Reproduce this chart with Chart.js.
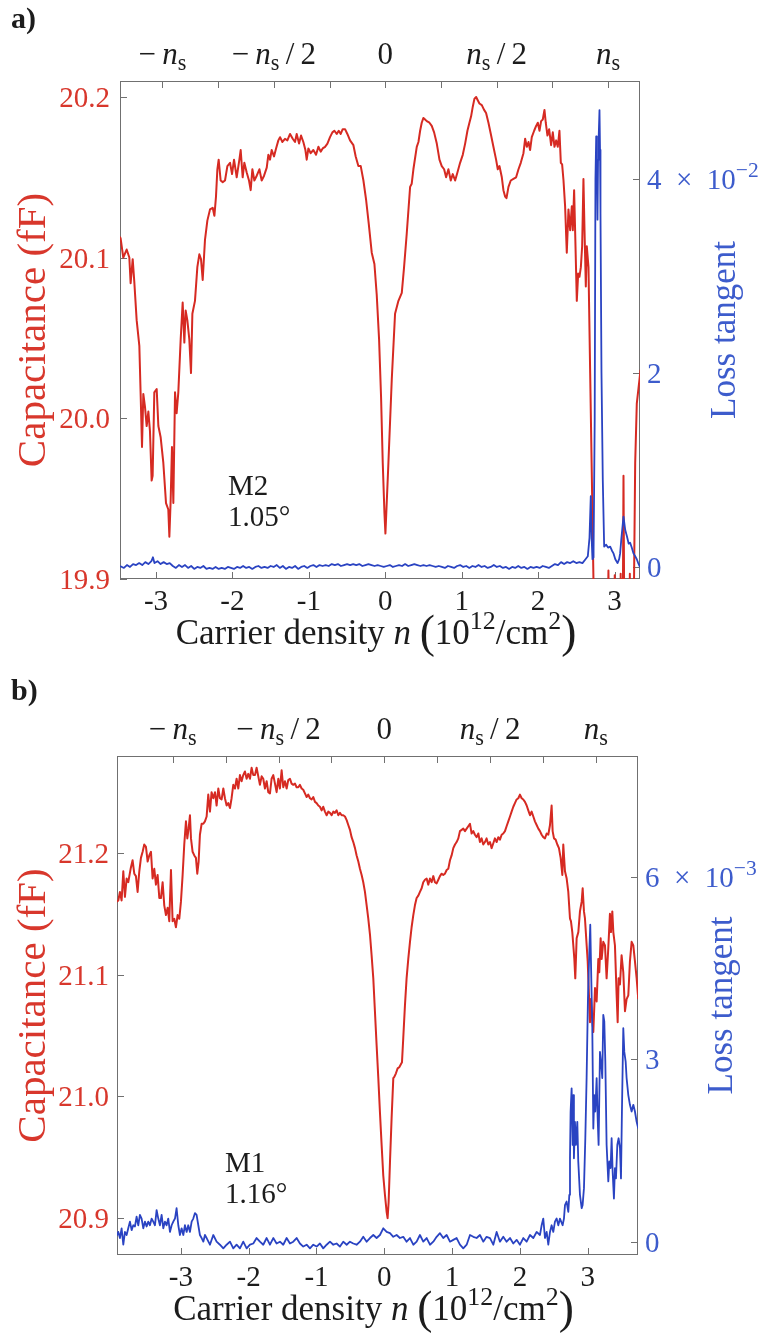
<!DOCTYPE html>
<html>
<head>
<meta charset="utf-8">
<script src="https://cdn.jsdelivr.net/npm/chart.js@4/dist/chart.umd.min.js"></script>
<style>
  html, body { margin: 0; padding: 0; background: #fff; }
  body { width: 770px; height: 1338px; position: relative; overflow: hidden; }
  canvas { position: absolute; left: 0; display: block; }
</style>
</head>
<body>
<canvas id="panelA" width="770" height="668" style="top:0"></canvas>
<canvas id="panelB" width="770" height="670" style="top:668px"></canvas>
<script>
// ---------- data: [carrier density (1e12 cm^-2), value] ----------
const capacitanceA = [
  [-3.475,20.113],[-3.463,20.112],[-3.428,20.100],[-3.384,20.105],[-3.349,20.100],[-3.332,20.084],[-3.305,20.099],[-3.284,20.085],
  [-3.253,20.061],[-3.218,20.045],[-3.201,20.015],[-3.183,19.982],[-3.166,20.015],[-3.144,20.007],[-3.122,19.995],[-3.100,20.004],
  [-3.079,19.992],[-3.057,19.961],[-3.044,19.964],[-3.022,20.016],[-2.991,20.018],[-2.969,19.995],[-2.939,19.988],[-2.904,19.972],
  [-2.869,19.947],[-2.839,19.943],[-2.825,19.926],[-2.808,19.949],[-2.791,19.982],[-2.773,19.947],[-2.751,20.016],[-2.730,20.003],
  [-2.708,20.016],[-2.677,20.049],[-2.651,20.072],[-2.629,20.047],[-2.612,20.067],[-2.590,20.061],[-2.564,20.049],[-2.542,20.028],
  [-2.524,20.065],[-2.490,20.073],[-2.459,20.094],[-2.433,20.102],[-2.411,20.099],[-2.389,20.086],[-2.359,20.111],[-2.328,20.123],
  [-2.293,20.130],[-2.258,20.131],[-2.236,20.126],[-2.215,20.138],[-2.197,20.155],[-2.180,20.161],[-2.154,20.148],[-2.127,20.147],
  [-2.097,20.148],[-2.066,20.157],[-2.031,20.159],[-2.005,20.152],[-1.979,20.161],[-1.944,20.150],[-1.909,20.161],[-1.892,20.167],
  [-1.866,20.150],[-1.844,20.159],[-1.813,20.153],[-1.783,20.148],[-1.761,20.142],[-1.739,20.155],[-1.713,20.148],[-1.682,20.151],
  [-1.647,20.155],[-1.617,20.148],[-1.586,20.151],[-1.551,20.156],[-1.530,20.164],[-1.508,20.161],[-1.486,20.167],[-1.456,20.163],
  [-1.429,20.168],[-1.399,20.173],[-1.377,20.175],[-1.346,20.172],[-1.312,20.174],[-1.281,20.173],[-1.246,20.177],[-1.211,20.174],
  [-1.181,20.172],[-1.159,20.177],[-1.128,20.171],[-1.102,20.176],[-1.072,20.172],[-1.045,20.167],[-1.028,20.161],[-1.006,20.168],
  [-0.976,20.165],[-0.941,20.167],[-0.906,20.164],[-0.875,20.169],[-0.845,20.166],[-0.819,20.168],[-0.788,20.169],[-0.757,20.171],
  [-0.723,20.175],[-0.692,20.178],[-0.666,20.179],[-0.635,20.177],[-0.609,20.179],[-0.583,20.177],[-0.557,20.180],[-0.526,20.180],
  [-0.496,20.177],[-0.461,20.173],[-0.417,20.170],[-0.387,20.163],[-0.352,20.157],[-0.321,20.157],[-0.286,20.148],[-0.251,20.136],
  [-0.216,20.121],[-0.177,20.103],[-0.142,20.096],[-0.112,20.077],[-0.081,20.049],[-0.055,20.013],[-0.033,19.972],[-0.011,19.941],
  [0.002,19.928],[0.041,19.972],[0.085,20.024],[0.128,20.065],[0.172,20.073],[0.216,20.078],[0.246,20.094],[0.281,20.115],
  [0.325,20.144],[0.346,20.146],[0.368,20.155],[0.412,20.169],[0.434,20.172],[0.456,20.179],[0.477,20.184],[0.499,20.187],
  [0.521,20.186],[0.543,20.185],[0.578,20.184],[0.608,20.182],[0.639,20.178],[0.674,20.171],[0.709,20.161],[0.739,20.157],
  [0.770,20.155],[0.796,20.150],[0.826,20.155],[0.857,20.148],[0.883,20.152],[0.914,20.148],[0.944,20.153],[0.979,20.159],
  [1.014,20.164],[1.045,20.171],[1.075,20.179],[1.101,20.184],[1.123,20.188],[1.145,20.194],[1.167,20.199],[1.189,20.200],
  [1.210,20.198],[1.232,20.196],[1.263,20.195],[1.293,20.192],[1.319,20.190],[1.350,20.184],[1.381,20.177],[1.415,20.169],
  [1.450,20.161],[1.472,20.155],[1.494,20.157],[1.525,20.150],[1.546,20.142],[1.568,20.138],[1.586,20.137],[1.612,20.144],
  [1.642,20.148],[1.677,20.149],[1.712,20.150],[1.743,20.155],[1.773,20.159],[1.808,20.165],[1.830,20.174],[1.852,20.169],
  [1.874,20.172],[1.895,20.167],[1.917,20.175],[1.948,20.179],[1.974,20.182],[1.996,20.184],[2.018,20.179],[2.039,20.185],
  [2.061,20.186],[2.083,20.192],[2.100,20.184],[2.122,20.176],[2.144,20.180],[2.170,20.170],[2.192,20.178],[2.214,20.169],
  [2.236,20.173],[2.257,20.169],[2.279,20.179],[2.297,20.159],[2.314,20.158],[2.332,20.148],[2.353,20.132],[2.375,20.103],
  [2.397,20.130],[2.419,20.117],[2.441,20.132],[2.454,20.117],[2.471,20.142],[2.489,20.107],[2.506,20.073],[2.524,20.090],
  [2.541,20.088],[2.559,20.094],[2.576,20.107],[2.593,20.149],[2.607,20.117],[2.624,20.082],[2.637,20.107],[2.659,20.094],
  [2.681,20.028],[2.707,19.951],[2.724,19.899],[2.740,19.850],[2.905,19.850],[2.920,19.905],[2.935,19.850],[2.995,19.850],
  [3.000,19.902],[3.005,19.850],[3.075,19.850],[3.080,19.903],[3.085,19.850],[3.105,19.850],[3.117,19.964],[3.130,19.850],
  [3.195,19.850],[3.200,19.903],[3.205,19.850],[3.245,19.850],[3.270,19.972],[3.291,20.009],[3.326,20.024],[3.340,20.030]
];

const lossTangentA = [
  [-3.47,0.0001],[-3.42,-0.0001],[-3.38,0.0002],[-3.34,0.0000],[-3.30,0.0003],[-3.26,0.0002],[-3.22,0.0004],[-3.18,0.0002],
  [-3.14,0.0005],[-3.10,0.0003],[-3.06,0.0006],[-3.04,0.0010],[-3.02,0.0004],[-2.98,0.0006],[-2.94,0.0003],[-2.90,0.0005],
  [-2.86,0.0003],[-2.82,0.0004],[-2.78,0.0001],[-2.74,-0.0001],[-2.70,0.0002],[-2.66,0.0000],[-2.62,0.0002],[-2.58,-0.0001],
  [-2.54,0.0001],[-2.50,-0.0002],[-2.46,0.0000],[-2.42,-0.0001],[-2.38,0.0001],[-2.34,-0.0002],[-2.30,-0.0001],[-2.26,-0.0002],
  [-2.22,0.0000],[-2.18,-0.0002],[-2.14,-0.0001],[-2.10,-0.0002],[-2.06,0.0000],[-2.02,-0.0001],[-1.98,-0.0002],[-1.94,0.0000],
  [-1.90,-0.0001],[-1.86,0.0001],[-1.82,-0.0001],[-1.78,0.0000],[-1.74,-0.0002],[-1.70,0.0000],[-1.66,0.0001],[-1.62,-0.0001],
  [-1.58,0.0000],[-1.54,-0.0001],[-1.50,0.0001],[-1.46,0.0000],[-1.42,0.0002],[-1.38,-0.0001],[-1.34,0.0001],[-1.30,-0.0002],
  [-1.26,0.0000],[-1.22,-0.0001],[-1.18,0.0001],[-1.14,-0.0002],[-1.10,0.0000],[-1.06,0.0001],[-1.02,-0.0001],[-0.98,0.0001],
  [-0.94,0.0002],[-0.90,0.0000],[-0.86,0.0002],[-0.82,0.0001],[-0.78,0.0002],[-0.74,0.0001],[-0.70,0.0003],[-0.66,0.0002],
  [-0.62,0.0003],[-0.58,0.0001],[-0.54,0.0002],[-0.50,0.0003],[-0.46,0.0002],[-0.42,0.0003],[-0.38,0.0002],[-0.34,0.0003],
  [-0.30,0.0001],[-0.26,0.0002],[-0.22,0.0003],[-0.18,0.0002],[-0.14,0.0001],[-0.10,0.0002],[-0.06,0.0001],[-0.02,0.0000],
  [0.02,0.0001],[0.06,0.0002],[0.10,0.0000],[0.14,0.0001],[0.18,0.0002],[0.22,0.0001],[0.26,0.0003],[0.30,0.0001],
  [0.34,0.0002],[0.38,0.0003],[0.42,0.0002],[0.46,0.0001],[0.50,0.0002],[0.54,0.0001],[0.58,0.0002],[0.62,0.0001],
  [0.66,0.0000],[0.70,0.0001],[0.74,0.0000],[0.78,-0.0001],[0.82,0.0001],[0.86,0.0000],[0.90,-0.0001],[0.94,0.0001],
  [0.98,0.0002],[1.02,0.0000],[1.06,0.0001],[1.10,-0.0001],[1.14,0.0001],[1.18,0.0000],[1.22,0.0002],[1.26,0.0000],
  [1.30,0.0001],[1.34,-0.0001],[1.38,0.0000],[1.42,0.0002],[1.46,0.0000],[1.50,0.0001],[1.54,-0.0001],[1.58,0.0000],
  [1.62,-0.0002],[1.66,0.0000],[1.70,-0.0001],[1.74,0.0001],[1.78,-0.0001],[1.82,0.0000],[1.86,-0.0002],[1.90,0.0000],
  [1.94,-0.0001],[1.98,0.0000],[2.02,-0.0001],[2.06,0.0001],[2.10,0.0000],[2.14,-0.0001],[2.18,0.0001],[2.22,0.0003],
  [2.26,0.0002],[2.30,0.0005],[2.34,0.0003],[2.38,0.0005],[2.42,0.0004],[2.46,0.0006],[2.50,0.0004],[2.54,0.0005],
  [2.58,0.0004],[2.62,0.0008],[2.65,0.0011],[2.672,0.0030],[2.689,0.0073],[2.700,0.0030],[2.711,0.0008],[2.725,0.0010],
  [2.740,0.0150],[2.750,0.0400],[2.760,0.0444],[2.768,0.0420],[2.777,0.0358],[2.784,0.0420],[2.790,0.0433],[2.796,0.0445],
  [2.803,0.0471],[2.810,0.0430],[2.816,0.0365],[2.829,0.0200],[2.846,0.0090],[2.864,0.0021],[2.890,0.0023],[2.915,0.0020],
  [2.943,0.0021],[2.965,0.0017],[2.986,0.0014],[3.010,0.0008],[3.039,0.0004],[3.060,0.0008],[3.073,0.0014],[3.090,0.0030],
  [3.117,0.0052],[3.140,0.0038],[3.161,0.0032],[3.185,0.0024],[3.204,0.0025],[3.225,0.0020],[3.248,0.0014],[3.270,0.0011],
  [3.291,0.0008],[3.310,0.0004],[3.326,0.0001],[3.340,0.0000]
];

const capacitanceB = [
  [-3.945,21.160],[-3.923,21.161],[-3.899,21.168],[-3.874,21.161],[-3.849,21.185],[-3.825,21.164],[-3.800,21.179],[-3.776,21.176],
  [-3.741,21.187],[-3.712,21.194],[-3.687,21.183],[-3.663,21.181],[-3.638,21.168],[-3.613,21.185],[-3.589,21.196],[-3.564,21.201],
  [-3.540,21.207],[-3.515,21.205],[-3.490,21.193],[-3.466,21.198],[-3.441,21.201],[-3.417,21.179],[-3.392,21.187],[-3.368,21.174],
  [-3.343,21.182],[-3.318,21.163],[-3.294,21.163],[-3.269,21.176],[-3.245,21.157],[-3.220,21.149],[-3.195,21.155],[-3.171,21.144],
  [-3.146,21.186],[-3.122,21.144],[-3.097,21.146],[-3.073,21.139],[-3.048,21.149],[-3.023,21.146],[-2.999,21.160],[-2.974,21.182],
  [-2.950,21.207],[-2.925,21.226],[-2.905,21.212],[-2.886,21.220],[-2.866,21.231],[-2.851,21.212],[-2.827,21.201],[-2.802,21.198],
  [-2.778,21.196],[-2.758,21.183],[-2.738,21.193],[-2.719,21.215],[-2.694,21.224],[-2.669,21.224],[-2.645,21.226],[-2.620,21.230],
  [-2.596,21.248],[-2.571,21.234],[-2.547,21.250],[-2.522,21.245],[-2.497,21.250],[-2.473,21.239],[-2.448,21.253],[-2.424,21.245],
  [-2.399,21.244],[-2.374,21.253],[-2.350,21.245],[-2.325,21.239],[-2.301,21.241],[-2.276,21.237],[-2.252,21.245],[-2.227,21.256],
  [-2.202,21.253],[-2.178,21.261],[-2.153,21.253],[-2.129,21.264],[-2.104,21.259],[-2.080,21.264],[-2.055,21.267],[-2.030,21.261],
  [-2.006,21.265],[-1.981,21.261],[-1.957,21.270],[-1.932,21.264],[-1.907,21.264],[-1.883,21.270],[-1.858,21.263],[-1.834,21.256],
  [-1.809,21.263],[-1.785,21.261],[-1.760,21.253],[-1.735,21.259],[-1.711,21.250],[-1.686,21.249],[-1.662,21.261],[-1.637,21.264],
  [-1.612,21.257],[-1.588,21.250],[-1.563,21.261],[-1.539,21.253],[-1.514,21.268],[-1.490,21.254],[-1.465,21.259],[-1.440,21.253],
  [-1.416,21.260],[-1.391,21.261],[-1.367,21.257],[-1.342,21.256],[-1.317,21.257],[-1.293,21.254],[-1.268,21.254],[-1.244,21.256],
  [-1.219,21.253],[-1.195,21.252],[-1.170,21.249],[-1.145,21.246],[-1.121,21.248],[-1.096,21.245],[-1.072,21.244],[-1.047,21.246],
  [-1.022,21.242],[-0.998,21.241],[-0.973,21.239],[-0.949,21.238],[-0.924,21.235],[-0.900,21.238],[-0.875,21.234],[-0.850,21.231],
  [-0.826,21.234],[-0.801,21.233],[-0.777,21.231],[-0.752,21.234],[-0.728,21.233],[-0.703,21.235],[-0.678,21.231],[-0.654,21.233],
  [-0.629,21.231],[-0.605,21.231],[-0.580,21.230],[-0.555,21.227],[-0.531,21.223],[-0.506,21.219],[-0.482,21.213],[-0.457,21.209],
  [-0.432,21.204],[-0.408,21.198],[-0.383,21.193],[-0.359,21.187],[-0.334,21.182],[-0.310,21.176],[-0.285,21.168],[-0.260,21.157],
  [-0.236,21.146],[-0.211,21.133],[-0.187,21.116],[-0.162,21.097],[-0.138,21.070],[-0.113,21.042],[-0.088,21.015],[-0.064,20.987],
  [-0.039,20.960],[-0.015,20.935],[0.010,20.919],[0.035,20.905],[0.049,20.900],[0.064,20.913],[0.084,20.946],[0.108,20.982],
  [0.133,21.015],[0.148,21.016],[0.172,21.019],[0.197,21.023],[0.221,21.024],[0.241,21.026],[0.261,21.028],[0.280,21.048],
  [0.305,21.075],[0.329,21.097],[0.354,21.113],[0.379,21.127],[0.403,21.139],[0.428,21.149],[0.452,21.157],[0.477,21.163],
  [0.502,21.165],[0.526,21.168],[0.551,21.171],[0.575,21.176],[0.600,21.178],[0.625,21.179],[0.649,21.174],[0.674,21.179],
  [0.698,21.176],[0.723,21.181],[0.747,21.176],[0.772,21.175],[0.797,21.178],[0.821,21.181],[0.846,21.183],[0.870,21.182],
  [0.895,21.183],[0.920,21.186],[0.944,21.187],[0.969,21.194],[0.993,21.198],[1.018,21.204],[1.043,21.207],[1.067,21.209],
  [1.092,21.212],[1.116,21.218],[1.141,21.219],[1.165,21.220],[1.190,21.218],[1.215,21.220],[1.239,21.222],[1.264,21.224],
  [1.288,21.216],[1.313,21.218],[1.337,21.215],[1.362,21.213],[1.387,21.216],[1.411,21.209],[1.436,21.212],[1.460,21.207],
  [1.485,21.209],[1.509,21.212],[1.534,21.207],[1.559,21.209],[1.583,21.204],[1.608,21.208],[1.632,21.212],[1.657,21.209],
  [1.682,21.213],[1.706,21.211],[1.731,21.215],[1.755,21.216],[1.780,21.218],[1.804,21.222],[1.829,21.226],[1.854,21.230],
  [1.878,21.234],[1.903,21.238],[1.927,21.241],[1.952,21.244],[1.977,21.245],[2.001,21.248],[2.026,21.245],[2.050,21.244],
  [2.075,21.242],[2.100,21.239],[2.124,21.235],[2.149,21.231],[2.173,21.234],[2.198,21.230],[2.222,21.226],[2.247,21.223],
  [2.272,21.220],[2.296,21.218],[2.321,21.215],[2.345,21.213],[2.370,21.212],[2.395,21.216],[2.419,21.215],[2.444,21.223],
  [2.468,21.239],[2.483,21.218],[2.503,21.212],[2.527,21.211],[2.552,21.207],[2.576,21.204],[2.601,21.196],[2.626,21.182],
  [2.640,21.207],[2.665,21.185],[2.690,21.179],[2.714,21.168],[2.739,21.146],[2.753,21.144],[2.773,21.135],[2.788,21.124],
  [2.803,21.113],[2.817,21.097],[2.837,21.130],[2.862,21.135],[2.886,21.152],[2.911,21.160],[2.926,21.171],[2.945,21.152],
  [2.960,21.146],[2.985,21.124],[3.000,21.111],[3.019,21.083],[3.034,21.061],[3.048,21.080],[3.068,21.064],[3.083,21.053],
  [3.108,21.089],[3.132,21.078],[3.157,21.113],[3.171,21.102],[3.191,21.130],[3.206,21.113],[3.230,21.127],[3.255,21.124],
  [3.279,21.097],[3.304,21.122],[3.328,21.150],[3.343,21.135],[3.363,21.152],[3.378,21.135],[3.402,21.124],[3.427,21.083],
  [3.442,21.061],[3.456,21.097],[3.476,21.092],[3.500,21.116],[3.525,21.102],[3.550,21.070],[3.574,21.080],[3.599,21.083],
  [3.623,21.111],[3.648,21.127],[3.673,21.124],[3.697,21.111],[3.722,21.097],[3.746,21.080]
];

const lossTangentB = [
  [-3.945,0.00010],[-3.923,0.00016],[-3.899,0.00006],[-3.874,0.00022],[-3.849,-0.00005],[-3.825,0.00016],[-3.800,0.00011],[-3.776,0.00022],
  [-3.751,0.00033],[-3.726,0.00019],[-3.702,0.00027],[-3.677,0.00025],[-3.653,0.00041],[-3.628,0.00027],[-3.604,0.00044],[-3.579,0.00038],
  [-3.554,0.00022],[-3.530,0.00033],[-3.505,0.00025],[-3.481,0.00033],[-3.456,0.00027],[-3.431,0.00038],[-3.407,0.00033],[-3.382,0.00027],
  [-3.358,0.00052],[-3.333,0.00038],[-3.309,0.00027],[-3.284,0.00044],[-3.259,0.00022],[-3.235,0.00033],[-3.210,0.00027],[-3.186,0.00038],
  [-3.161,0.00016],[-3.136,0.00027],[-3.112,0.00033],[-3.087,0.00038],[-3.063,0.00055],[-3.038,0.00027],[-3.014,0.00011],[-2.989,0.00022],
  [-2.964,0.00011],[-2.940,0.00027],[-2.915,0.00016],[-2.891,0.00027],[-2.866,0.00016],[-2.841,0.00033],[-2.817,0.00038],[-2.792,0.00047],
  [-2.768,0.00044],[-2.743,0.00027],[-2.719,0.00011],[-2.694,0.00006],[-2.669,0.00000],[-2.645,0.00011],[-2.620,0.00006],[-2.571,-0.00005],
  [-2.522,0.00011],[-2.473,0.00000],[-2.424,-0.00005],[-2.374,-0.00011],[-2.325,-0.00005],[-2.276,0.00000],[-2.227,-0.00011],[-2.178,-0.00005],
  [-2.129,-0.00011],[-2.080,0.00000],[-2.030,-0.00011],[-1.981,-0.00005],[-1.932,-0.00003],[-1.883,0.00006],[-1.834,0.00000],[-1.785,-0.00005],
  [-1.735,0.00006],[-1.686,-0.00005],[-1.637,0.00006],[-1.588,-0.00003],[-1.539,0.00000],[-1.490,-0.00005],[-1.440,0.00006],[-1.391,-0.00003],
  [-1.342,0.00000],[-1.293,0.00006],[-1.244,-0.00003],[-1.195,-0.00008],[-1.145,-0.00005],[-1.096,-0.00011],[-1.047,-0.00005],[-0.998,-0.00008],
  [-0.949,-0.00003],[-0.900,-0.00011],[-0.850,-0.00005],[-0.801,0.00000],[-0.752,-0.00005],[-0.703,-0.00003],[-0.654,-0.00008],[-0.605,0.00000],
  [-0.555,-0.00005],[-0.506,0.00000],[-0.457,-0.00003],[-0.408,-0.00005],[-0.359,0.00000],[-0.310,0.00008],[-0.260,0.00000],[-0.211,0.00006],
  [-0.162,0.00011],[-0.113,0.00006],[-0.064,0.00011],[-0.015,0.00022],[0.035,0.00016],[0.084,0.00014],[0.133,0.00008],[0.182,0.00011],
  [0.231,0.00006],[0.280,0.00008],[0.329,0.00000],[0.379,0.00006],[0.428,-0.00005],[0.477,0.00000],[0.526,0.00011],[0.575,0.00000],
  [0.625,0.00006],[0.674,-0.00005],[0.723,0.00000],[0.772,0.00008],[0.821,0.00014],[0.870,0.00006],[0.920,0.00011],[0.969,0.00000],
  [1.018,0.00003],[1.067,0.00006],[1.116,-0.00005],[1.165,-0.00011],[1.215,-0.00005],[1.264,0.00011],[1.313,0.00008],[1.362,0.00006],
  [1.411,0.00011],[1.460,0.00000],[1.509,0.00008],[1.559,0.00006],[1.608,-0.00005],[1.657,0.00016],[1.706,0.00000],[1.755,0.00008],
  [1.804,0.00000],[1.854,0.00006],[1.903,-0.00003],[1.952,0.00003],[2.001,-0.00005],[2.050,0.00006],[2.100,0.00000],[2.149,0.00011],
  [2.198,0.00006],[2.247,0.00016],[2.296,0.00011],[2.321,0.00027],[2.345,0.00038],[2.370,0.00006],[2.395,0.00016],[2.419,-0.00005],
  [2.444,0.00016],[2.468,0.00027],[2.493,0.00016],[2.517,0.00033],[2.542,0.00038],[2.567,0.00027],[2.591,0.00038],[2.630,0.00027],
  [2.650,0.00038],[2.665,0.00060],[2.689,0.00066],[2.714,0.00049],[2.729,0.00077],[2.739,0.00137],[2.748,0.00214],[2.763,0.00252],
  [2.778,0.00159],[2.788,0.00241],[2.797,0.00137],[2.812,0.00197],[2.827,0.00159],[2.847,0.00197],[2.861,0.00132],[2.886,0.00077],
  [2.911,0.00055],[2.925,0.00060],[2.945,0.00088],[2.965,0.00170],[2.984,0.00269],[3.004,0.00400],[3.024,0.00477],[3.038,0.00521],
  [3.053,0.00433],[3.068,0.00351],[3.083,0.00186],[3.097,0.00241],[3.112,0.00214],[3.132,0.00269],[3.147,0.00203],[3.161,0.00159],
  [3.181,0.00312],[3.201,0.00290],[3.215,0.00269],[3.230,0.00373],[3.245,0.00362],[3.260,0.00296],[3.279,0.00159],[3.304,0.00099],
  [3.319,0.00132],[3.338,0.00121],[3.353,0.00170],[3.368,0.00115],[3.387,0.00071],[3.402,0.00121],[3.417,0.00104],[3.437,0.00159],
  [3.456,0.00170],[3.476,0.00154],[3.491,0.00104],[3.505,0.00214],[3.525,0.00351],[3.540,0.00312],[3.560,0.00296],[3.574,0.00269],
  [3.599,0.00241],[3.623,0.00225],[3.648,0.00214],[3.673,0.00225],[3.697,0.00214],[3.722,0.00197],[3.746,0.00186]
];

// ---------- ticks and labels ----------
const densityTicks = [-3, -2, -1, 0, 1, 2, 3];
const capTicksA = [19.9, 20.0, 20.1, 20.2];
const capTicksB = [20.9, 21.0, 21.1, 21.2];
const lossTicksA = [0, 0.02, 0.04];
const lossTickLabelsA = ['0', '2', '4\u2002\u00d7\u200210^{\u22122}'];
const lossTicksB = [0, 0.003, 0.006];
const lossTickLabelsB = ['0', '3', '6\u2002\u00d7\u200210^{\u22123}'];
// filling in units of the full-filling density n_s (top axis)
const fillingFractions = [-1, -0.75, -0.5, -0.25, 0, 0.25, 0.5, 0.75, 1];
const fillingLabels = ['\u2212\u2009*n*_{s}', '', '\u2212\u2009*n*_{s}\u2009/\u20092', '', '0', '', '*n*_{s}\u2009/\u20092', '', '*n*_{s}'];
const fullFillingA = 2.916;
const fullFillingB = 3.12;
const sampleA = ['M2', '1.05\u00b0'];
const sampleB = ['M1', '1.16\u00b0'];

// ---------- styling ----------
const SERIF = "'Liberation Serif', 'Times New Roman', serif";
const RED = '#d62a22', BLUE = '#2a43c2';
const RED_TXT = '#d8372c', BLUE_TXT = '#3d5ccc', INK = '#1c1c1c', FRAME = '#707070';

// Small markup: *..* italic, ^{..} superscript, _{..} subscript, ( ) enlarged
function parseRich(src, bigParens) {
  const out = []; let buf = '', it = false, i = 0;
  const push = () => { if (buf) out.push({ t: buf, it }); buf = ''; };
  while (i < src.length) {
    const c = src[i];
    if (c === '*') { push(); it = !it; i++; continue; }
    if ((c === '^' || c === '_') && src[i + 1] === '{') {
      push();
      const j = src.indexOf('}', i);
      const seg = { t: src.slice(i + 2, j), it: false };
      seg[c === '^' ? 'sup' : 'sub'] = true;
      out.push(seg); i = j + 1; continue;
    }
    if (bigParens && (c === '(' || c === ')')) { push(); out.push({ t: c, big: true }); i++; continue; }
    buf += c; i++;
  }
  push();
  return out;
}
function segStyle(seg, size) {
  let s = size, dy = 0;
  if (seg.sup) { s = size * 0.74; dy = -size * 0.42; }
  else if (seg.sub) { s = size * 0.72; dy = size * 0.2; }
  else if (seg.big) { s = size * 1.3; dy = size * 0.08; }
  return { font: (seg.it ? 'italic ' : '') + s.toFixed(1) + 'px ' + SERIF, dy };
}
function drawRich(ctx, src, x, y, size, color, align, bigParens) {
  const segs = parseRich(src, bigParens).map(seg => {
    const st = segStyle(seg, size);
    ctx.font = st.font;
    return Object.assign({}, seg, st, { w: ctx.measureText(seg.t).width });
  });
  const total = segs.reduce((s, g) => s + g.w, 0);
  let cx = align === 'center' ? x - total / 2 : align === 'right' ? x - total : x;
  ctx.fillStyle = color; ctx.textAlign = 'left'; ctx.textBaseline = 'alphabetic';
  for (const g of segs) { ctx.font = g.font; ctx.fillText(g.t, cx, y + g.dy); cx += g.w; }
}

// Frame, inward tick marks and all axis text
const decor = {
  id: 'decor',
  beforeDatasetsDraw(chart, _args, o) {
    const { ctx, chartArea: a, scales } = chart;
    const L = o.tickLen;
    ctx.save();
    ctx.strokeStyle = FRAME; ctx.lineWidth = 1;
    ctx.strokeRect(a.left + 0.5, a.top + 0.5, a.right - a.left - 1, a.bottom - a.top - 1);
    ctx.beginPath();
    scales.x.ticks.forEach(t => { const p = Math.round(scales.x.getPixelForValue(t.value)) + 0.5; ctx.moveTo(p, a.bottom); ctx.lineTo(p, a.bottom - L); });
    scales.xTop.ticks.forEach(t => { const p = Math.round(scales.xTop.getPixelForValue(t.value)) + 0.5; ctx.moveTo(p, a.top); ctx.lineTo(p, a.top + L); });
    scales.y.ticks.forEach(t => { const p = Math.round(scales.y.getPixelForValue(t.value)) + 0.5; ctx.moveTo(a.left, p); ctx.lineTo(a.left + L, p); });
    scales.y2.ticks.forEach(t => { const p = Math.round(scales.y2.getPixelForValue(t.value)) + 0.5; ctx.moveTo(a.right, p); ctx.lineTo(a.right - L, p); });
    ctx.stroke();
    ctx.restore();
  },
  afterDraw(chart, _args, o) {
    const { ctx, chartArea: a, scales } = chart;
    ctx.save();
    ctx.textBaseline = 'alphabetic';
    // panel letter
    ctx.fillStyle = INK; ctx.textAlign = 'left';
    ctx.font = 'bold ' + o.letterSize + 'px ' + SERIF;
    ctx.fillText(o.letter, o.letterX, o.letterY);
    // bottom density ticks
    ctx.font = o.tickSize + 'px ' + SERIF; ctx.textAlign = 'center'; ctx.fillStyle = INK;
    scales.x.ticks.forEach(t => ctx.fillText(String(t.value), scales.x.getPixelForValue(t.value), a.bottom + o.xLabelDy));
    // top filling labels
    scales.xTop.ticks.forEach((t, i) => {
      if (o.topLabels[i]) drawRich(ctx, o.topLabels[i], scales.xTop.getPixelForValue(t.value), a.top - o.topLabelDy, o.topSize, INK, 'center');
    });
    // capacitance ticks
    ctx.font = o.tickSize + 'px ' + SERIF; ctx.textAlign = 'right'; ctx.fillStyle = RED_TXT;
    scales.y.ticks.forEach(t => ctx.fillText(t.value.toFixed(1), a.left - o.yLabelPad, scales.y.getPixelForValue(t.value) + o.digitHalf));
    // loss tangent ticks
    scales.y2.ticks.forEach((t, i) => drawRich(ctx, o.lossLabels[i], a.right + o.y2LabelPad, scales.y2.getPixelForValue(t.value) + o.digitHalf, o.tickSize, BLUE_TXT, 'left'));
    // x title
    drawRich(ctx, 'Carrier density *n* (10^{12}/cm^{2})', (a.left + a.right) / 2 + o.xTitleDx, a.bottom + o.xTitleDy, o.titleSize, INK, 'center', true);
    // y titles
    const midY = (a.top + a.bottom) / 2;
    ctx.textAlign = 'center'; ctx.textBaseline = 'middle';
    ctx.save(); ctx.translate(o.capTitleX, midY); ctx.rotate(-Math.PI / 2);
    ctx.font = o.capTitleSize + 'px ' + SERIF; ctx.fillStyle = RED_TXT; ctx.fillText('Capacitance (fF)', 0, 0); ctx.restore();
    ctx.save(); ctx.translate(a.right + o.lossTitleDx, midY); ctx.rotate(-Math.PI / 2);
    ctx.font = o.titleSize + 'px ' + SERIF; ctx.fillStyle = BLUE_TXT; ctx.fillText('Loss tangent', 0, 0); ctx.restore();
    // sample tag
    ctx.textBaseline = 'alphabetic'; ctx.textAlign = 'left'; ctx.fillStyle = INK;
    ctx.font = o.tagSize + 'px ' + SERIF;
    o.tag.forEach((s, i) => ctx.fillText(s, o.tagX, o.tagY + i * o.tagStep));
    ctx.restore();
  }
};

function drawPanel(id, d) {
  const canvas = document.getElementById(id);
  const W = canvas.width, H = canvas.height, box = d.box;
  const pts = arr => arr.map(p => ({ x: p[0], y: p[1] }));
  const fixTicks = vals => s => { s.ticks = vals.map(value => ({ value })); };
  const hidden = () => ({ ticks: { display: false }, grid: { display: false, drawTicks: false }, border: { display: false } });
  return new Chart(canvas, {
    type: 'line',
    data: {
      datasets: [
        { data: pts(d.loss), yAxisID: 'y2', borderColor: BLUE, borderWidth: 1.8 },
        { data: pts(d.cap), yAxisID: 'y', borderColor: RED, borderWidth: 2 }
      ]
    },
    options: {
      responsive: false, animation: false, devicePixelRatio: 1,
      layout: { padding: 0, autoPadding: false },
      elements: { point: { radius: 0 }, line: { tension: 0, borderJoinStyle: 'round', fill: false } },
      datasets: { line: { clip: 0 } },
      plugins: { legend: { display: false }, tooltip: { enabled: false }, decor: d.text },
      scales: {
        x: Object.assign(hidden(), { type: 'linear', position: 'bottom', min: d.xMin, max: d.xMax,
          afterBuildTicks: fixTicks(densityTicks), afterFit: s => { s.height = H - box.bottom; } }),
        xTop: Object.assign(hidden(), { type: 'linear', position: 'top', min: d.xMin, max: d.xMax,
          afterBuildTicks: fixTicks(fillingFractions.map(f => f * d.ns)), afterFit: s => { s.height = box.top; } }),
        y: Object.assign(hidden(), { type: 'linear', position: 'left', min: d.yMin, max: d.yMax,
          afterBuildTicks: fixTicks(d.capTicks), afterFit: s => { s.width = box.left; } }),
        y2: Object.assign(hidden(), { type: 'linear', position: 'right', min: d.lMin, max: d.lMax,
          afterBuildTicks: fixTicks(d.lossTicks), afterFit: s => { s.width = W - box.right; } })
      }
    },
    plugins: [decor]
  });
}

const textCommon = {
  tickLen: 7, tickSize: 29, topSize: 31, titleSize: 35, capTitleSize: 41, tagSize: 29, letterSize: 30,
  xLabelDy: 31, xTitleDy: 65, xTitleDx: -4, topLabelDy: 17, digitHalf: 10,
  y2LabelPad: 7, capTitleX: 34, tagStep: 31, letterX: 11, topLabels: fillingLabels
};

drawPanel('panelA', {
  cap: capacitanceA, loss: lossTangentA,
  xMin: -3.471, xMax: 3.333, yMin: 19.8997, yMax: 20.2100, lMin: -0.00124, lMax: 0.0501,
  capTicks: capTicksA, lossTicks: lossTicksA, ns: fullFillingA,
  box: { left: 120, right: 640, top: 81, bottom: 579 },
  text: Object.assign({}, textCommon, {
    letter: 'a)', letterY: 28, yLabelPad: 10, lossTitleDx: 86,
    lossLabels: lossTickLabelsA, tag: sampleA, tagX: 228, tagY: 495
  })
});

drawPanel('panelB', {
  cap: capacitanceB, loss: lossTangentB,
  xMin: -3.942, xMax: 3.742, yMin: 20.8697, yMax: 21.2797, lMin: -0.000219, lMax: 0.007984,
  capTicks: capTicksB, lossTicks: lossTicksB, ns: fullFillingB,
  box: { left: 117, right: 638, top: 88, bottom: 587 },
  text: Object.assign({}, textCommon, {
    letter: 'b)', letterY: 32, yLabelPad: 8, lossTitleDx: 85,
    lossLabels: lossTickLabelsB, tag: sampleB, tagX: 225, tagY: 504
  })
});
</script>
</body>
</html>
